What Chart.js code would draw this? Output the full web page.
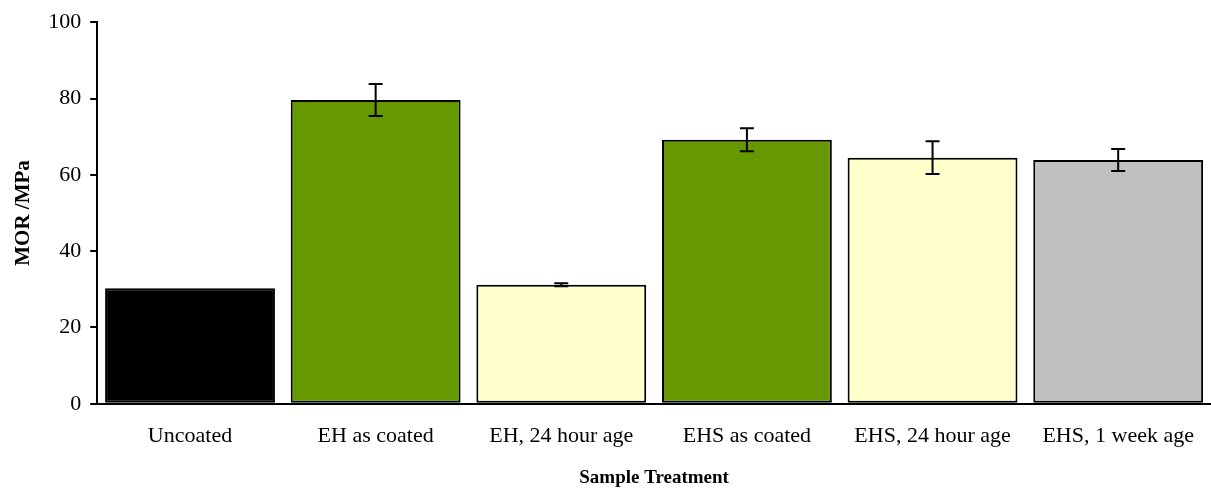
<!DOCTYPE html>
<html>
<head>
<meta charset="utf-8">
<script src="https://cdn.jsdelivr.net/npm/chart.js@4"></script>
<style>
  html, body { margin: 0; padding: 0; background: #fff; }
  #wrap { width: 1211px; height: 492px; }
</style>
</head>
<body>
<div id="wrap"><canvas id="morChart"></canvas></div>
<script>
const categories = ['Uncoated', 'EH as coated', 'EH, 24 hour age', 'EHS as coated', 'EHS, 24 hour age', 'EHS, 1 week age'];
const morValues = [30.3, 79.6, 31.2, 69.2, 64.5, 63.9];
const morErrors = [0, 4.2, 0.4, 3.0, 4.3, 2.9];
const barColours = ['#000000', '#669900', '#FFFFCC', '#669900', '#FFFFCC', '#C0C0C0'];

// error bars drawn on top of the bars, using the y scale
const errorBars = {
    id: 'errorBars',
    afterDatasetsDraw(chart) {
        const ctx = chart.ctx;
        const y = chart.scales.y;
        const meta = chart.getDatasetMeta(0);
        ctx.save();
        ctx.strokeStyle = '#000';
        ctx.lineWidth = 2;
        meta.data.forEach((bar, i) => {
            const err = morErrors[i];
            if (!err) return;
            const top = y.getPixelForValue(morValues[i] + err);
            const bot = y.getPixelForValue(morValues[i] - err);
            ctx.beginPath();
            ctx.moveTo(bar.x, top); ctx.lineTo(bar.x, bot);
            ctx.moveTo(bar.x - 7, top); ctx.lineTo(bar.x + 7, top);
            ctx.moveTo(bar.x - 7, bot); ctx.lineTo(bar.x + 7, bot);
            ctx.stroke();
        });
        ctx.restore();
    }
};

const serif = 'Liberation Serif';

new Chart(document.getElementById('morChart'), {
    type: 'bar',
    data: {
        labels: categories,
        datasets: [{
            data: morValues,
            backgroundColor: barColours,
            borderColor: '#000',
            borderWidth: 2,
            borderSkipped: false,
            barPercentage: 0.915,
            categoryPercentage: 1
        }]
    },
    options: {
        responsive: true,
        maintainAspectRatio: false,
        animation: false,
        layout: { padding: { top: 7, right: 0, left: 6, bottom: 3 } },
        plugins: { legend: { display: false }, tooltip: { enabled: false } },
        scales: {
            x: {
                grid: { display: false },
                border: { display: true, color: '#000', width: 2 },
                ticks: { color: '#000', font: { family: serif, size: 22 }, padding: 11, maxRotation: 0 },
                title: { display: true, text: 'Sample Treatment', color: '#000', font: { family: serif, size: 19, weight: 'bold' }, padding: { top: 6, bottom: 0 } }
            },
            y: {
                min: 0, max: 100,
                grid: { drawOnChartArea: false, drawTicks: true, tickLength: 7, color: '#000', lineWidth: 2 },
                border: { display: true, color: '#000', width: 2 },
                ticks: { stepSize: 20, color: '#000', font: { family: serif, size: 22 }, padding: 9 },
                title: { display: true, text: 'MOR /MPa', color: '#000', font: { family: serif, size: 21, weight: 'bold' }, padding: { top: 5, bottom: 3 } }
            }
        }
    },
    plugins: [errorBars]
});
</script>
</body>
</html>
